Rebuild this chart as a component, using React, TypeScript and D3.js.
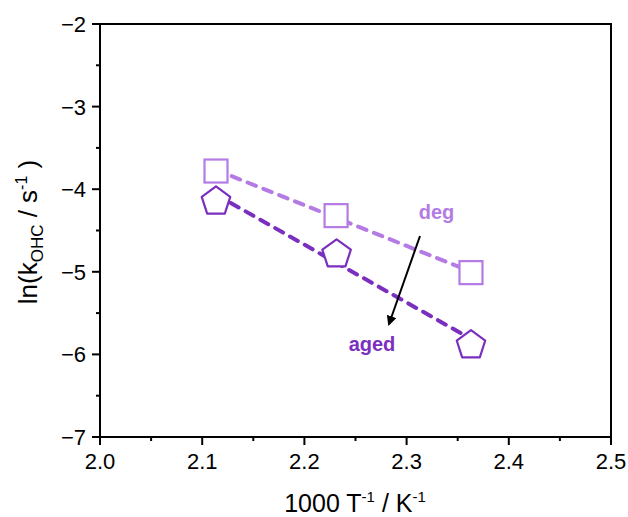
import React from "react";
import * as d3 from "d3";

const degX = [2.1135, 2.231, 2.363];
const degY = [-3.78, -4.32, -5.01];
const agedX = [2.1135, 2.2315, 2.363];
const agedY = [-4.13, -4.77, -5.87];
const xTicks = [2.0, 2.1, 2.2, 2.3, 2.4, 2.5];
const yTicks = [-7, -6, -5, -4, -3, -2];

const W = 628, H = 517;
const M = { left: 100, right: 611, top: 24, bottom: 437 };
const DEG_COLOR = "#b47be4";
const AGED_COLOR = "#7a2fbf";

function fit(xs: number[], ys: number[]) {
  const mx = d3.mean(xs)!, my = d3.mean(ys)!;
  let num = 0, den = 0;
  xs.forEach((x, i) => { num += (x - mx) * (ys[i] - my); den += (x - mx) ** 2; });
  const b = num / den;
  const a = my - b * mx;
  return (x: number) => a + b * x;
}

export default function App() {
  const x = d3.scaleLinear().domain([2.0, 2.5]).range([M.left, M.right]);
  const y = d3.scaleLinear().domain([-7, -2]).range([M.bottom, M.top]);
  const font = "Liberation Sans, Arial, sans-serif";
  const xMinor = d3.range(2.05, 2.5, 0.1);
  const yMinor = d3.range(-6.5, -2, 1);
  const fDeg = fit(degX, degY);
  const fAged = fit(agedX, agedY);
  const x0 = d3.min(degX)!, x1 = d3.max(degX)!;
  const ax0 = d3.min(agedX)!, ax1 = d3.max(agedX)!;
  const pentPath = (() => {
    const r = 15;
    const pts = d3.range(5).map(i => {
      const a = -Math.PI / 2 + i * 2 * Math.PI / 5;
      return [r * Math.cos(a), r * Math.sin(a) + 1.5];
    });
    return "M" + pts.map(p => p.join(",")).join("L") + "Z";
  })();
  return (
    <svg width={W} height={H} style={{ position: "absolute", left: 0, top: 0, background: "#fff" }} fontFamily={font}>
      <defs>
        <marker id="ah" viewBox="0 0 10 10" refX="8" refY="5" markerWidth="5" markerHeight="5" orient="auto">
          <path d="M0,0L10,5L0,10Z" fill="#000" />
        </marker>
      </defs>
      {/* fit lines */}
      <line x1={x(x0)} y1={y(fDeg(x0))} x2={x(x1)} y2={y(fDeg(x1))} stroke={DEG_COLOR} strokeWidth={4} strokeDasharray="9 8" strokeLinecap="round" />
      <line x1={x(ax0)} y1={y(fAged(ax0))} x2={x(ax1)} y2={y(fAged(ax1))} stroke={AGED_COLOR} strokeWidth={4} strokeDasharray="9 8" strokeLinecap="round" />
      {/* markers */}
      {degX.map((d, i) => (
        <rect key={"s" + i} x={x(d) - 11.5} y={y(degY[i]) - 11.5} width={23} height={23} fill="#fff" stroke={DEG_COLOR} strokeWidth={2.2} />
      ))}
      {agedX.map((d, i) => (
        <path key={"p" + i} d={pentPath} transform={`translate(${x(d)},${y(agedY[i])})`} fill="#fff" stroke={AGED_COLOR} strokeWidth={2.2} strokeLinejoin="round" />
      ))}
      {/* annotations */}
      <text x={436.5} y={219} fill={DEG_COLOR} fontSize={20} fontWeight="bold" textAnchor="middle">deg</text>
      <text x={372} y={351} fill={AGED_COLOR} fontSize={20} fontWeight="bold" textAnchor="middle">aged</text>
      <line x1={420} y1={236} x2={389} y2={324} stroke="#000" strokeWidth={2} markerEnd="url(#ah)" />
      {/* frame */}
      <rect x={M.left} y={M.top} width={M.right - M.left} height={M.bottom - M.top} fill="none" stroke="#000" strokeWidth={2} />
      {/* x ticks */}
      {xTicks.map(t => (
        <g key={"xt" + t}>
          <line x1={x(t)} x2={x(t)} y1={M.bottom} y2={M.bottom + 8} stroke="#000" strokeWidth={2} />
          <text x={x(t)} y={M.bottom + 32} fontSize={22} textAnchor="middle">{t.toFixed(1)}</text>
        </g>
      ))}
      {xMinor.map(t => (
        <line key={"xm" + t} x1={x(t)} x2={x(t)} y1={M.bottom} y2={M.bottom + 4} stroke="#000" strokeWidth={2} />
      ))}
      {yTicks.map(t => (
        <g key={"yt" + t}>
          <line x1={M.left} x2={M.left - 8} y1={y(t)} y2={y(t)} stroke="#000" strokeWidth={2} />
          <text x={M.left - 14} y={y(t) + 8} fontSize={22} textAnchor="end">{"\u2212" + Math.abs(t)}</text>
        </g>
      ))}
      {yMinor.map(t => (
        <line key={"ym" + t} x1={M.left} x2={M.left - 4} y1={y(t)} y2={y(t)} stroke="#000" strokeWidth={2} />
      ))}
      {/* axis titles */}
      <text x={355} y={512} fontSize={25} textAnchor="middle">
        1000 T<tspan dy={-10} fontSize={15}>-1</tspan><tspan dy={10}> / K</tspan><tspan dy={-10} fontSize={15}>-1</tspan>
      </text>
      <text transform={`translate(37,232) rotate(-90)`} fontSize={26} textAnchor="middle" xmlSpace="preserve">
        ln(k<tspan dy={6} fontSize={17}>OHC</tspan><tspan dy={-6}> / s</tspan><tspan dy={-10} fontSize={16}>-1</tspan><tspan dy={10}>{"\u00a0)"}</tspan>
      </text>
    </svg>
  );
}
